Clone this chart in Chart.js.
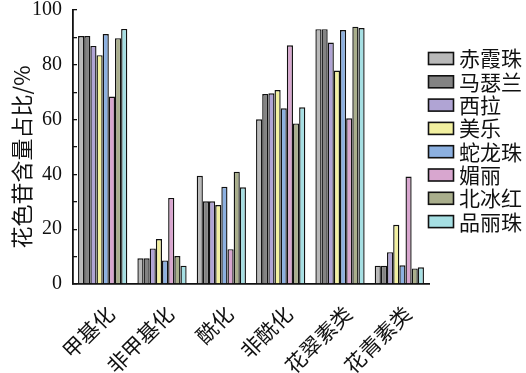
<!DOCTYPE html>
<html>
<head>
<meta charset="utf-8">
<script src="https://cdn.jsdelivr.net/npm/chart.js@4/dist/chart.umd.min.js"></script>
<style>
  html, body { margin: 0; padding: 0; background: #fff; }
  canvas { display: block; }
</style>
</head>
<body>
<canvas id="chart" width="526" height="373"></canvas>
<script>
// categories on the x axis
const categories = ["甲基化", "非甲基化", "酰化", "非酰化", "花翠素类", "花青素类"];

// one array per variety, values in %
const chixiazhu = [90.5, 9.4, 39.5, 60.1, 93.0, 6.7];
const maselan = [90.5, 9.4, 30.2, 69.3, 93.0, 6.7];
const xila = [86.9, 13.0, 30.2, 69.6, 88.1, 11.6];
const meile = [83.5, 16.4, 28.8, 70.8, 77.9, 21.6];
const shelongzhu = [91.2, 8.6, 35.5, 64.1, 92.7, 6.8];
const meili = [68.4, 31.4, 12.7, 87.1, 60.5, 39.2];
const beibinghong = [89.7, 10.2, 41.0, 58.6, 93.9, 5.7];
const pinlizhu = [93.1, 6.7, 35.3, 64.5, 93.4, 6.1];

const seriesNames = ["赤霞珠", "马瑟兰", "西拉", "美乐", "蛇龙珠", "媚丽", "北冰红", "品丽珠"];
const seriesValues = [chixiazhu, maselan, xila, meile, shelongzhu, meili, beibinghong, pinlizhu];
const seriesColors = ["#b9b9b9", "#838383", "#b0a4d4", "#f2f0a0", "#8cb0e0", "#d8a6cf", "#a9ae8c", "#a6dfe3"];

// y axis ticks every 10, labels every 20
const yMin = 0;
const yMax = 100;
const yStep = 10;
const yTitle = "花色苷含量占比/%";

const cjkFont = "'Noto Sans CJK SC', 'Noto Sans', sans-serif";
const numFont = "'Liberation Serif', 'DejaVu Serif', serif";

// legend and y title are drawn by hand to sit where the original puts them
const sideParts = {
  id: "sideParts",
  afterDraw(chart) {
    const ctx = chart.ctx;
    ctx.save();
    ctx.fillStyle = "#111";
    ctx.font = "22px " + cjkFont;
    ctx.textAlign = "center";
    ctx.textBaseline = "middle";
    ctx.translate(22, 157);
    ctx.rotate(-Math.PI / 2);
    ctx.fillText(chart.options.plugins.sideParts.title, 0, 0);
    ctx.restore();

    ctx.save();
    ctx.font = "21px " + cjkFont;
    ctx.textBaseline = "middle";
    ctx.textAlign = "left";
    chart.data.datasets.forEach((ds, i) => {
      const top = 52.5 + i * 23.3;
      ctx.fillStyle = ds.backgroundColor;
      ctx.fillRect(428.5, top, 25, 12);
      ctx.strokeStyle = "#111";
      ctx.lineWidth = 1.6;
      ctx.strokeRect(428.5, top, 25, 12);
      ctx.fillStyle = "#111";
      ctx.fillText(ds.label, 459, top + 6);
    });
    ctx.restore();
  },
};

new Chart(document.getElementById("chart"), {
  type: "bar",
  data: {
    labels: categories,
    datasets: seriesNames.map((name, i) => ({
      label: name,
      data: seriesValues[i],
      backgroundColor: seriesColors[i],
      borderColor: "#111",
      borderWidth: 1.4,
      borderSkipped: "bottom",
      categoryPercentage: 0.83,
      barPercentage: 1.0,
    })),
  },
  options: {
    responsive: false,
    devicePixelRatio: 1,
    animation: false,
    layout: { padding: { left: 0, top: 10, right: 97, bottom: 0 } },
    plugins: {
      legend: { display: false },
      tooltip: { enabled: false },
      sideParts: { title: yTitle },
    },
    scales: {
      x: {
        offset: true,
        grid: { display: false, drawTicks: false },
        border: { display: true, color: "#111", width: 1.8 },
        ticks: {
          color: "#111",
          font: { family: cjkFont, size: 21 },
          minRotation: 45,
          maxRotation: 45,
          autoSkip: false,
          padding: 17,
          labelOffset: 8,
        },
        afterFit(scale) {
          scale.height = 89;
          scale.paddingLeft = 0;
          scale.paddingRight = 0;
        },
      },
      y: {
        min: yMin,
        max: yMax,
        grid: {
          drawOnChartArea: false,
          drawTicks: true,
          tickLength: -4,
          color: "#111",
          lineWidth: 1.3,
        },
        border: { display: true, color: "#111", width: 1.8 },
        ticks: {
          stepSize: yStep,
          color: "#111",
          font: { family: numFont, size: 20, lineHeight: 1 },
          padding: 15,
          callback: (v) => (v % 20 === 0 ? v : ""),
        },
        afterFit(scale) {
          scale.width = 73;
          scale.paddingTop = 0;
          scale.paddingBottom = 0;
        },
      },
    },
  },
  plugins: [sideParts],
});
</script>
</body>
</html>
